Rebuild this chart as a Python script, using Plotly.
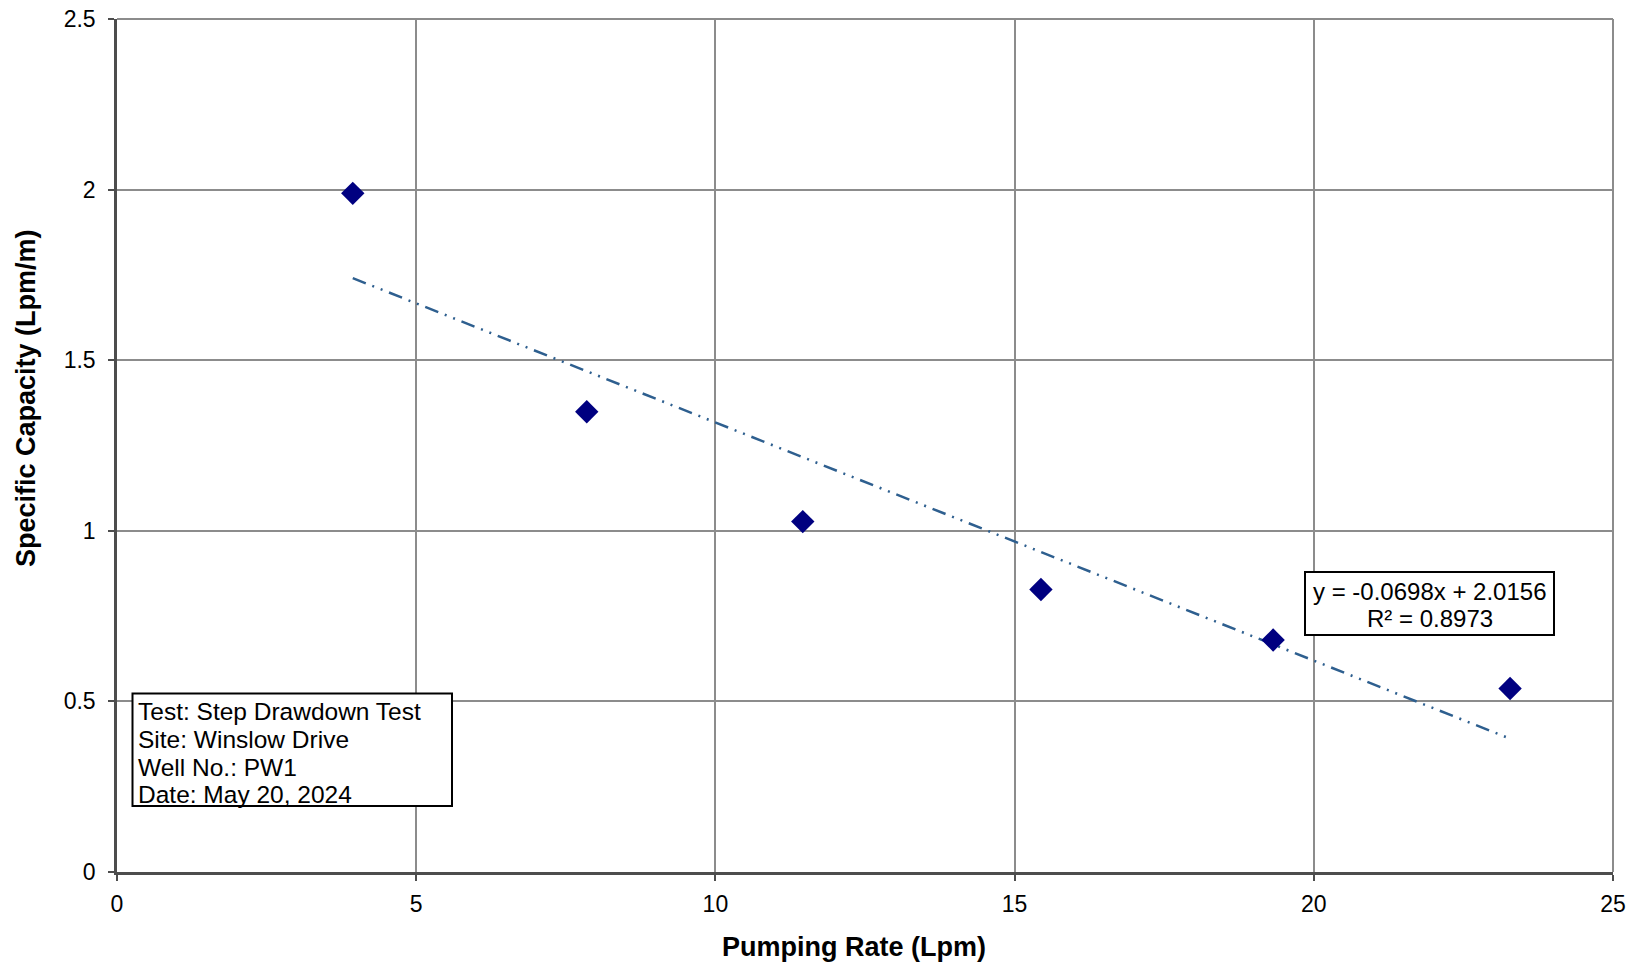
import plotly.graph_objects as go

# Data
pumping_rate = [3.94, 7.85, 11.46, 15.44, 19.32, 23.28]
specific_capacity = [1.989, 1.349, 1.027, 0.828, 0.680, 0.538]
slope = -0.0698
intercept = 2.0156
r_squared = 0.8973
x_ticks = [0, 5, 10, 15, 20, 25]
y_ticks = [0, 0.5, 1, 1.5, 2, 2.5]
y_tick_labels = ["0", "0.5", "1", "1.5", "2", "2.5"]
info_lines = ["Test: Step Drawdown Test", "Site: Winslow Drive", "Well No.: PW1", "Date: May 20, 2024"]
eq_lines = [f"y = {slope}x + {intercept}", f"R² = {r_squared}"]

trend_x = [min(pumping_rate), max(pumping_rate)]
trend_y = [slope * v + intercept for v in trend_x]

FONT = "Liberation Sans, Arial, sans-serif"
W, H = 1639, 967
L, R, T, B = 117, 26, 19, 95
PW, PH = W - L - R, H - T - B


def px(xp):
    return (xp - L) / PW


def py(yp):
    return (H - B - yp) / PH


fig = go.Figure()
fig.add_trace(go.Scatter(
    x=trend_x, y=trend_y, mode="lines",
    line=dict(color="#2e5f8f", width=2.5, dash="14px,7px,2px,7px,2px,7px"),
    showlegend=False, hoverinfo="skip"))
fig.add_trace(go.Scatter(
    x=pumping_rate, y=specific_capacity, mode="markers",
    marker=dict(symbol="diamond", size=18, color="#000080"),
    showlegend=False))

axis_common = dict(
    showgrid=True, gridcolor="#8c8c8c", gridwidth=2,
    showline=True, linecolor="#4d4d4d", linewidth=2.5, mirror=False,
    ticks="outside", ticklen=6, tickcolor="#4d4d4d", tickwidth=2,
    zeroline=False, automargin=False,
    tickfont=dict(family=FONT, size=23, color="#000000"),
)

fig.update_xaxes(range=[0, 25], tickvals=x_ticks, ticklabelstandoff=4, **axis_common)
fig.update_yaxes(range=[0, 2.5], tickvals=y_ticks, ticktext=y_tick_labels,
                 ticklabelstandoff=8, **axis_common)

# right and top border lines
fig.add_shape(type="line", xref="paper", yref="paper", x0=1, x1=1, y0=0, y1=1,
              line=dict(color="#8c8c8c", width=2))
fig.add_shape(type="line", xref="paper", yref="paper", x0=0, x1=1, y0=1, y1=1,
              line=dict(color="#8c8c8c", width=2))

# axis titles
fig.add_annotation(xref="paper", yref="paper", x=px(854), y=py(947),
                   text="<b>Pumping Rate (Lpm)</b>", showarrow=False,
                   xanchor="center", yanchor="middle",
                   font=dict(family=FONT, size=27, color="#000"))
fig.add_annotation(xref="paper", yref="paper", x=px(26), y=py(398),
                   text="<b>Specific Capacity (Lpm/m)</b>", showarrow=False,
                   textangle=-90, xanchor="center", yanchor="middle",
                   font=dict(family=FONT, size=27, color="#000"))

# info box
fig.add_shape(type="rect", xref="paper", yref="paper",
              x0=px(132.5), x1=px(452), y0=py(806), y1=py(693.5),
              line=dict(color="#000", width=2), fillcolor="#ffffff")
for i, line in enumerate(info_lines):
    fig.add_annotation(xref="paper", yref="paper", x=px(136), y=py(711.5 + i * 27.8),
                       text=line, showarrow=False, xanchor="left", yanchor="middle",
                       font=dict(family=FONT, size=24.5, color="#000"))

# equation box
fig.add_shape(type="rect", xref="paper", yref="paper",
              x0=px(1305), x1=px(1554), y0=py(635), y1=py(572),
              line=dict(color="#000", width=2), fillcolor="#ffffff")
for i, line in enumerate(eq_lines):
    fig.add_annotation(xref="paper", yref="paper", x=px(1429.5), y=py(591.5 + i * 27),
                       text=line, showarrow=False, xanchor="center", yanchor="middle",
                       font=dict(family=FONT, size=24, color="#000"))

fig.update_layout(
    width=W, height=H,
    margin=dict(l=L, r=R, t=T, b=B, autoexpand=False),
    plot_bgcolor="#ffffff", paper_bgcolor="#ffffff",
    font=dict(family=FONT),
)

fig.write_html("out.html")
